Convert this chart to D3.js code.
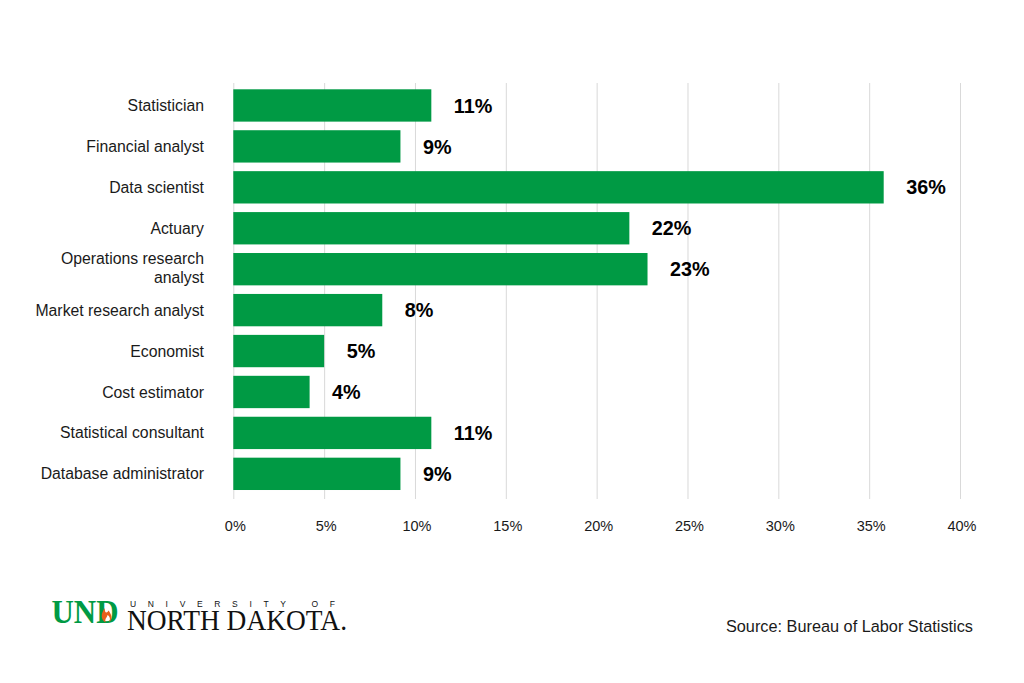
<!DOCTYPE html>
<html>
<head>
<meta charset="utf-8">
<script src="https://cdn.jsdelivr.net/npm/d3@7/dist/d3.min.js"></script>
<style>
  html, body { margin: 0; padding: 0; background: #fff; }
  text { font-family: "Liberation Sans", Arial, sans-serif; }
</style>
</head>
<body>
<div id="chart"></div>
<script>
// growth projections
var categories = ["Statistician", "Financial analyst", "Data scientist", "Actuary",
    "Operations research\nanalyst", "Market research analyst", "Economist",
    "Cost estimator", "Statistical consultant", "Database administrator"];
var values = [10.9, 9.2, 35.8, 21.8, 22.8, 8.2, 5.0, 4.2, 10.9, 9.2];
var valueLabels = ["11%", "9%", "36%", "22%", "23%", "8%", "5%", "4%", "11%", "9%"];
var xTicks = [0, 5, 10, 15, 20, 25, 30, 35, 40];

var width = 1024, height = 683;
var green = "#009a44";

var svg = d3.select("#chart").append("svg")
    .attr("width", width)
    .attr("height", height);

var x = d3.scaleLinear().domain([0, 40]).range([233.3, 960]);
var y = d3.scaleBand().domain(categories)
    .range([85.2, 494.1])
    .paddingInner(0.21)
    .paddingOuter(0.1);

var gridTop = 83, gridBottom = 499;

// gridlines + tick labels
var xAxis = svg.append("g")
    .attr("transform", "translate(0," + gridBottom + ")")
    .call(d3.axisBottom(x)
        .tickValues(xTicks)
        .tickFormat(function(d) { return d + "%"; })
        .tickSize(-(gridBottom - gridTop))
        .tickPadding(21.4));
xAxis.select(".domain").remove();
xAxis.selectAll(".tick line")
    .attr("stroke", "#d9d9d9")
    .attr("stroke-width", 1);
xAxis.selectAll(".tick text")
    .attr("dx", 1.5)
    .attr("fill", "#1a1a1a")
    .style("font-size", "14.5px")
    .style("font-family", "Liberation Sans, Arial, sans-serif");

// bars
svg.append("g").selectAll("rect")
    .data(categories)
    .join("rect")
    .attr("x", x(0))
    .attr("y", function(d) { return y(d); })
    .attr("width", function(d, i) { return x(values[i]) - x(0); })
    .attr("height", y.bandwidth())
    .attr("fill", green);

// value labels
svg.append("g").selectAll("text")
    .data(categories)
    .join("text")
    .attr("x", function(d, i) { return x(values[i]) + 22.5; })
    .attr("y", function(d) { return y(d) + y.bandwidth() / 2; })
    .attr("dy", "0.36em")
    .attr("fill", "#000")
    .style("font-size", "19.8px")
    .style("font-weight", "bold")
    .text(function(d, i) { return valueLabels[i]; });

// category labels (with manual line breaks)
var catLabels = svg.append("g").selectAll("text")
    .data(categories)
    .join("text")
    .attr("text-anchor", "end")
    .attr("fill", "#1a1a1a")
    .style("font-size", "15.8px")
    .attr("transform", function(d) {
        return "translate(204," + (y(d) + y.bandwidth() / 2) + ")";
    });
catLabels.each(function(d) {
    var lines = d.split("\n");
    var lh = 19;
    var start = -(lines.length - 1) * lh / 2 - 1.5 * (lines.length - 1);
    d3.select(this).selectAll("tspan")
        .data(lines)
        .join("tspan")
        .attr("x", 0)
        .attr("y", function(l, i) { return start + i * lh; })
        .attr("dy", "0.35em")
        .text(function(l) { return l; });
});

// source note
svg.append("text")
    .attr("x", 973)
    .attr("y", 632)
    .attr("text-anchor", "end")
    .attr("fill", "#1a1a1a")
    .style("font-size", "16.3px")
    .text("Source: Bureau of Labor Statistics");

// UND logo
var logo = svg.append("g");
logo.append("text")
    .attr("x", 51.5)
    .attr("y", 623)
    .attr("textLength", 67)
    .attr("lengthAdjust", "spacingAndGlyphs")
    .attr("fill", green)
    .style("font-family", "Liberation Serif, serif")
    .style("font-weight", "bold")
    .style("font-size", "33px")
    .text("UND");
logo.append("path")
    .attr("d", "M106,622.5 C100.5,620 100.5,613.5 105,608 C104,612.5 107,614 108.5,610.5 C111,614 113.5,618.5 109,622.5 C111,619 109.5,616 107.5,615 C107,618 104,619 106,622.5 Z")
    .attr("fill", "#e8601c");
logo.append("text")
    .attr("x", 130)
    .attr("y", 606.5)
    .attr("textLength", 205)
    .attr("lengthAdjust", "spacing")
    .attr("fill", "#111")
    .style("font-size", "8.5px")
    .text("UNIVERSITY OF");
logo.append("text")
    .attr("x", 127)
    .attr("y", 630)
    .attr("textLength", 220)
    .attr("lengthAdjust", "spacingAndGlyphs")
    .attr("fill", "#111")
    .style("font-family", "Liberation Serif, serif")
    .style("font-size", "28.5px")
    .text("NORTH DAKOTA.");
</script>
</body>
</html>
